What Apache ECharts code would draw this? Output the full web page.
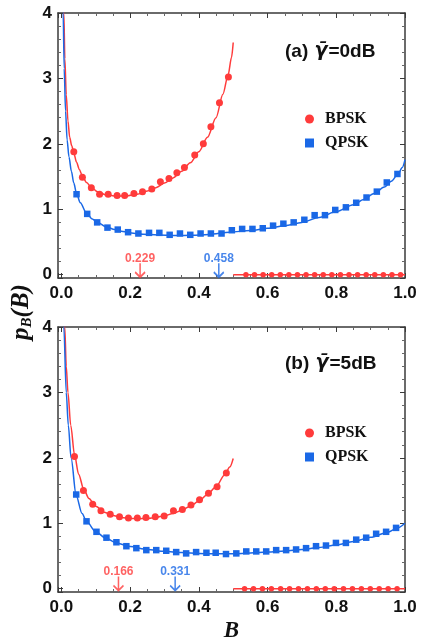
<!DOCTYPE html>
<html>
<head>
<meta charset="utf-8">
<script src="https://cdn.jsdelivr.net/npm/echarts@6/dist/echarts.min.js"></script>
<style>
  html, body { margin: 0; padding: 0; background: #fff; }
  #chart { width: 424px; height: 644px; }
</style>
</head>
<body>
<div id="chart"></div>
<script>
// ---- Panel (a): mean SNR 0 dB ----
const bpskCurveA = [
  [0.004, 5.3], [0.007, 4.0], [0.010, 3.3], [0.014, 2.75], [0.019, 2.35], [0.024, 2.10],
  [0.030, 1.97], [0.036, 1.86], [0.044, 1.72], [0.052, 1.61], [0.060, 1.52], [0.073, 1.41],
  [0.088, 1.33], [0.105, 1.27], [0.130, 1.22], [0.160, 1.20], [0.190, 1.205], [0.220, 1.23],
  [0.250, 1.28], [0.275, 1.33], [0.300, 1.40], [0.325, 1.48], [0.350, 1.58], [0.375, 1.71],
  [0.400, 1.88], [0.425, 2.10], [0.450, 2.40], [0.470, 2.76], [0.485, 3.05], [0.495, 3.32],
  [0.500, 3.55]
];
const qpskCurveA = [
  [0.003, 5.5], [0.005, 4.0], [0.008, 3.15], [0.012, 2.5], [0.0165, 2.06], [0.022, 1.80],
  [0.029, 1.58], [0.036, 1.40], [0.044, 1.24], [0.055, 1.10], [0.073, 0.94], [0.090, 0.85],
  [0.102, 0.81], [0.131, 0.73], [0.155, 0.69], [0.179, 0.66], [0.210, 0.635], [0.237, 0.62],
  [0.280, 0.608], [0.330, 0.60], [0.380, 0.602], [0.430, 0.615], [0.490, 0.65], [0.550, 0.675],
  [0.600, 0.71], [0.650, 0.75], [0.700, 0.80], [0.750, 0.875], [0.800, 0.965], [0.850, 1.07],
  [0.880, 1.15], [0.910, 1.24], [0.940, 1.34], [0.960, 1.43], [0.980, 1.54], [0.992, 1.64],
  [1.000, 1.76]
];
const bpskSimA = [
  [0.036, 1.88], [0.061, 1.49], [0.087, 1.33], [0.111, 1.23], [0.136, 1.23], [0.162, 1.21],
  [0.184, 1.21], [0.211, 1.24], [0.236, 1.27], [0.263, 1.31], [0.288, 1.42], [0.313, 1.47],
  [0.336, 1.56], [0.358, 1.64], [0.388, 1.83], [0.413, 2.00], [0.435, 2.26], [0.460, 2.63],
  [0.486, 3.02]
];
const qpskSimA = [
  [0.044, 1.23], [0.075, 0.93], [0.104, 0.80], [0.134, 0.72], [0.164, 0.69], [0.194, 0.65],
  [0.224, 0.63], [0.255, 0.64], [0.285, 0.64], [0.315, 0.61], [0.345, 0.63], [0.375, 0.61],
  [0.405, 0.63], [0.435, 0.63], [0.466, 0.63], [0.496, 0.68], [0.526, 0.70], [0.556, 0.70],
  [0.586, 0.71], [0.616, 0.75], [0.646, 0.78], [0.676, 0.80], [0.707, 0.84], [0.737, 0.91],
  [0.767, 0.91], [0.797, 0.99], [0.828, 1.03], [0.858, 1.10], [0.888, 1.18], [0.918, 1.27],
  [0.947, 1.41], [0.978, 1.54]
];
// BPSK density is zero above B = 0.5
const bpskZeroLineA = [[0.5, 0], [1.0, 0]];
const bpskZeroSimA = [
  0.537, 0.562, 0.587, 0.612, 0.637, 0.662, 0.687, 0.712, 0.737, 0.762,
  0.787, 0.812, 0.837, 0.862, 0.887, 0.912, 0.937, 0.962, 0.987
];
const optimumA = { bpsk: 0.229, qpsk: 0.458 };

// ---- Panel (b): mean SNR 5 dB ----
const bpskCurveB = [
  [0.004, 6.0], [0.0097, 4.0], [0.014, 3.4], [0.019, 3.0], [0.027, 2.5], [0.038, 2.05],
  [0.050, 1.75], [0.065, 1.52], [0.080, 1.38], [0.100, 1.26], [0.125, 1.17], [0.150, 1.12],
  [0.175, 1.09], [0.200, 1.075], [0.225, 1.07], [0.250, 1.075], [0.275, 1.09], [0.300, 1.115],
  [0.325, 1.15], [0.350, 1.20], [0.375, 1.26], [0.400, 1.34], [0.425, 1.44], [0.450, 1.56],
  [0.475, 1.74], [0.490, 1.86], [0.500, 1.99]
];
const qpskCurveB = [
  [0.004, 6.0], [0.007, 4.0], [0.014, 3.0], [0.020, 2.5], [0.028, 2.0], [0.043, 1.42],
  [0.060, 1.15], [0.073, 1.03], [0.100, 0.87], [0.130, 0.77], [0.160, 0.70], [0.200, 0.645],
  [0.250, 0.60], [0.300, 0.572], [0.350, 0.553], [0.400, 0.538], [0.450, 0.533], [0.500, 0.535],
  [0.550, 0.545], [0.600, 0.56], [0.650, 0.577], [0.700, 0.60], [0.750, 0.632], [0.800, 0.67],
  [0.850, 0.723], [0.900, 0.785], [0.950, 0.865], [0.975, 0.92], [1.000, 1.00]
];
const bpskSimB = [
  [0.038, 2.02], [0.064, 1.50], [0.091, 1.29], [0.115, 1.19], [0.142, 1.14], [0.169, 1.10],
  [0.195, 1.08], [0.221, 1.08], [0.246, 1.09], [0.273, 1.10], [0.299, 1.11], [0.326, 1.19],
  [0.352, 1.21], [0.377, 1.28], [0.402, 1.36], [0.428, 1.46], [0.453, 1.56], [0.480, 1.77]
];
const qpskSimB = [
  [0.043, 1.44], [0.073, 1.03], [0.102, 0.87], [0.131, 0.78], [0.160, 0.71], [0.189, 0.65],
  [0.218, 0.62], [0.247, 0.59], [0.276, 0.59], [0.305, 0.58], [0.334, 0.56], [0.363, 0.54],
  [0.392, 0.56], [0.422, 0.55], [0.449, 0.55], [0.479, 0.53], [0.509, 0.54], [0.538, 0.57],
  [0.567, 0.57], [0.596, 0.57], [0.625, 0.59], [0.654, 0.59], [0.683, 0.60], [0.712, 0.62],
  [0.741, 0.65], [0.770, 0.66], [0.799, 0.70], [0.828, 0.70], [0.858, 0.75], [0.887, 0.78],
  [0.916, 0.84], [0.945, 0.87], [0.974, 0.93]
];
const bpskZeroLineB = [[0.5, 0], [1.0, 0]];
const bpskZeroSimB = [
  0.533, 0.559, 0.585, 0.611, 0.638, 0.664, 0.690, 0.716, 0.742,
  0.768, 0.794, 0.821, 0.847, 0.873, 0.899, 0.925, 0.951, 0.977
];
const optimumB = { bpsk: 0.166, qpsk: 0.331 };

const panelTitles = ['(a) {g|γ\u0304}=0dB', '(b) {g|γ\u0304}=5dB'];
const legendNames = ['BPSK', 'QPSK'];

// ---- styling ----
const RED = '#ff3b3b';
const BLUE = '#1a68e6';
const FRAME = '#3a3a3a';
const SANS = 'Liberation Sans, Arial, sans-serif';
const SERIF = 'Liberation Serif, Times New Roman, serif';

const grids = [
  { left: 58, right: 19, top: 13, height: 265 },
  { left: 58, right: 19, top: 327, height: 266 }
];

const X_MIN = -0.01, X_MAX = 1.0, Y_MIN = -0.05, Y_MAX = 4;

function tickLabelX(v) {
  return v < -1e-9 ? '' : v.toFixed(1);
}
function tickLabelY(v) {
  return (v >= -1e-9 && Math.abs(v - Math.round(v)) < 1e-6) ? String(Math.round(v)) : '';
}

const xAxes = [];
const yAxes = [];
grids.forEach((g, i) => {
  const tick = { show: true, inside: true, length: 5, lineStyle: { color: FRAME, width: 1 } };
  const line = { show: true, onZero: false, lineStyle: { color: FRAME, width: 1.5 } };
  const xMinor = { show: true, splitNumber: 4, length: 3, lineStyle: { color: '#666', width: 1 } };
  const yMinor = { show: true, splitNumber: 5, length: 3, lineStyle: { color: '#666', width: 1 } };
  xAxes.push({
    gridIndex: i, type: 'value', position: 'bottom', min: X_MIN, max: X_MAX,
    axisLine: line, axisTick: tick, minorTick: xMinor, splitLine: { show: false },
    axisLabel: {
      formatter: tickLabelX, fontSize: 17, fontWeight: 'bold', color: '#111',
      fontFamily: SANS, margin: 7
    },
    name: i === 1 ? 'B' : '', nameLocation: 'middle', nameGap: 28,
    nameTextStyle: { fontFamily: SERIF, fontStyle: 'italic', fontWeight: 'bold', fontSize: 23, color: '#111' }
  });
  xAxes.push({
    gridIndex: i, type: 'value', position: 'top', min: X_MIN, max: X_MAX,
    axisLine: line, axisTick: tick, minorTick: xMinor, splitLine: { show: false },
    axisLabel: { show: false }
  });
  yAxes.push({
    gridIndex: i, type: 'value', position: 'left', min: Y_MIN, max: Y_MAX,
    axisLine: line, axisTick: tick, minorTick: yMinor, splitLine: { show: false },
    axisLabel: {
      formatter: tickLabelY, fontSize: 17, fontWeight: 'bold', color: '#111',
      fontFamily: SANS, margin: 6
    }
  });
  yAxes.push({
    gridIndex: i, type: 'value', position: 'right', min: Y_MIN, max: Y_MAX,
    axisLine: line, axisTick: tick, minorTick: yMinor, splitLine: { show: false },
    axisLabel: { show: false }
  });
});

const arrowPath = 'path://M5,0L5,14M0.5,9L5,14L9.5,9';

function panelSeries(i, d) {
  const ax = { xAxisIndex: 2 * i, yAxisIndex: 2 * i };
  const curve = (name, data, color) => Object.assign({
    type: 'line', name, data, symbol: 'none', smooth: 0.3, smoothMonotone: 'x',
    lineStyle: { color, width: 1.5 }, z: 2, silent: true
  }, ax);
  const sim = (name, data, color, symbol, size) => Object.assign({
    type: 'scatter', name, data, symbol, symbolSize: size,
    itemStyle: { color, opacity: 1 }, z: 3, silent: true
  }, ax);
  const arrow = (b, yv, color) => Object.assign({
    type: 'scatter', name: 'opt', data: [[b, yv]], symbol: arrowPath, symbolSize: [10, 14],
    itemStyle: { color: 'none', borderColor: color, borderWidth: 1.8 },
    label: {
      show: true, position: 'top', distance: 0, offset: [0, 4],
      formatter: (p) => p.value[0].toFixed(3),
      color, fontFamily: SANS, fontWeight: 'bold', fontSize: 12
    },
    z: 4, silent: true
  }, ax);
  return [
    curve('BPSK fit', d.bpskCurve, RED),
    curve('QPSK fit', d.qpskCurve, BLUE),
    curve('BPSK zero', d.zeroLine, RED),
    sim('BPSK', d.bpskSim, RED, 'circle', 7),
    sim('QPSK', d.qpskSim, BLUE, 'rect', 6.5),
    sim('BPSK zero sim', d.zeroSim.map(b => [b, 0]), RED, 'circle', 5.5),
    arrow(d.opt.bpsk, d.arrowY, RED),
    arrow(d.opt.qpsk, d.arrowY, BLUE)
  ];
}

const series = [].concat(
  panelSeries(0, {
    bpskCurve: bpskCurveA, qpskCurve: qpskCurveA, bpskSim: bpskSimA, qpskSim: qpskSimA,
    zeroLine: bpskZeroLineA, zeroSim: bpskZeroSimA, opt: optimumA, arrowY: 0.07
  }),
  panelSeries(1, {
    bpskCurve: bpskCurveB, qpskCurve: qpskCurveB, bpskSim: bpskSimB, qpskSim: qpskSimB,
    zeroLine: bpskZeroLineB, zeroSim: bpskZeroSimB, opt: optimumB, arrowY: 0.08
  })
);

const titleStyle = {
  fontFamily: SANS, fontWeight: 'bold', fontSize: 19, color: '#111',
  rich: {
    g: { fontFamily: 'DejaVu Sans', fontStyle: 'italic', fontWeight: 'bold', fontSize: 19, color: '#111', padding: [0, 1, 0, 1] }
  }
};

const legendStyle = (top) => ({
  data: [
    { name: legendNames[0], icon: 'circle' },
    { name: legendNames[1], icon: 'rect' }
  ],
  orient: 'vertical', left: 300, top, itemWidth: 9, itemHeight: 9, itemGap: 8,
  selectedMode: false,
  textStyle: { fontFamily: SERIF, fontWeight: 'bold', fontSize: 16, color: '#111', padding: [0, 0, 0, 6] }
});

const option = {
  animation: false,
  backgroundColor: '#fff',
  title: [
    { text: panelTitles[0], left: 285, top: 42, padding: 0, textStyle: titleStyle },
    { text: panelTitles[1], left: 285, top: 354, padding: 0, textStyle: titleStyle }
  ],
  legend: [legendStyle(106), legendStyle(420)],
  grid: grids,
  xAxis: xAxes,
  yAxis: yAxes,
  series,
  graphic: [{
    type: 'text', x: 22, y: 312, rotation: Math.PI / 2,
    style: {
      text: '{p|p}{s|B}{p|(B)}', align: 'center', verticalAlign: 'middle',
      rich: {
        p: { fontFamily: SERIF, fontStyle: 'italic', fontWeight: 'bold', fontSize: 25, fill: '#111' },
        s: { fontFamily: SERIF, fontStyle: 'italic', fontWeight: 'bold', fontSize: 15, fill: '#111', padding: [11, 0, 0, 0] }
      }
    }
  }]
};

const chart = echarts.init(document.getElementById('chart'), null, { renderer: 'canvas' });
chart.setOption(option);
</script>
</body>
</html>
